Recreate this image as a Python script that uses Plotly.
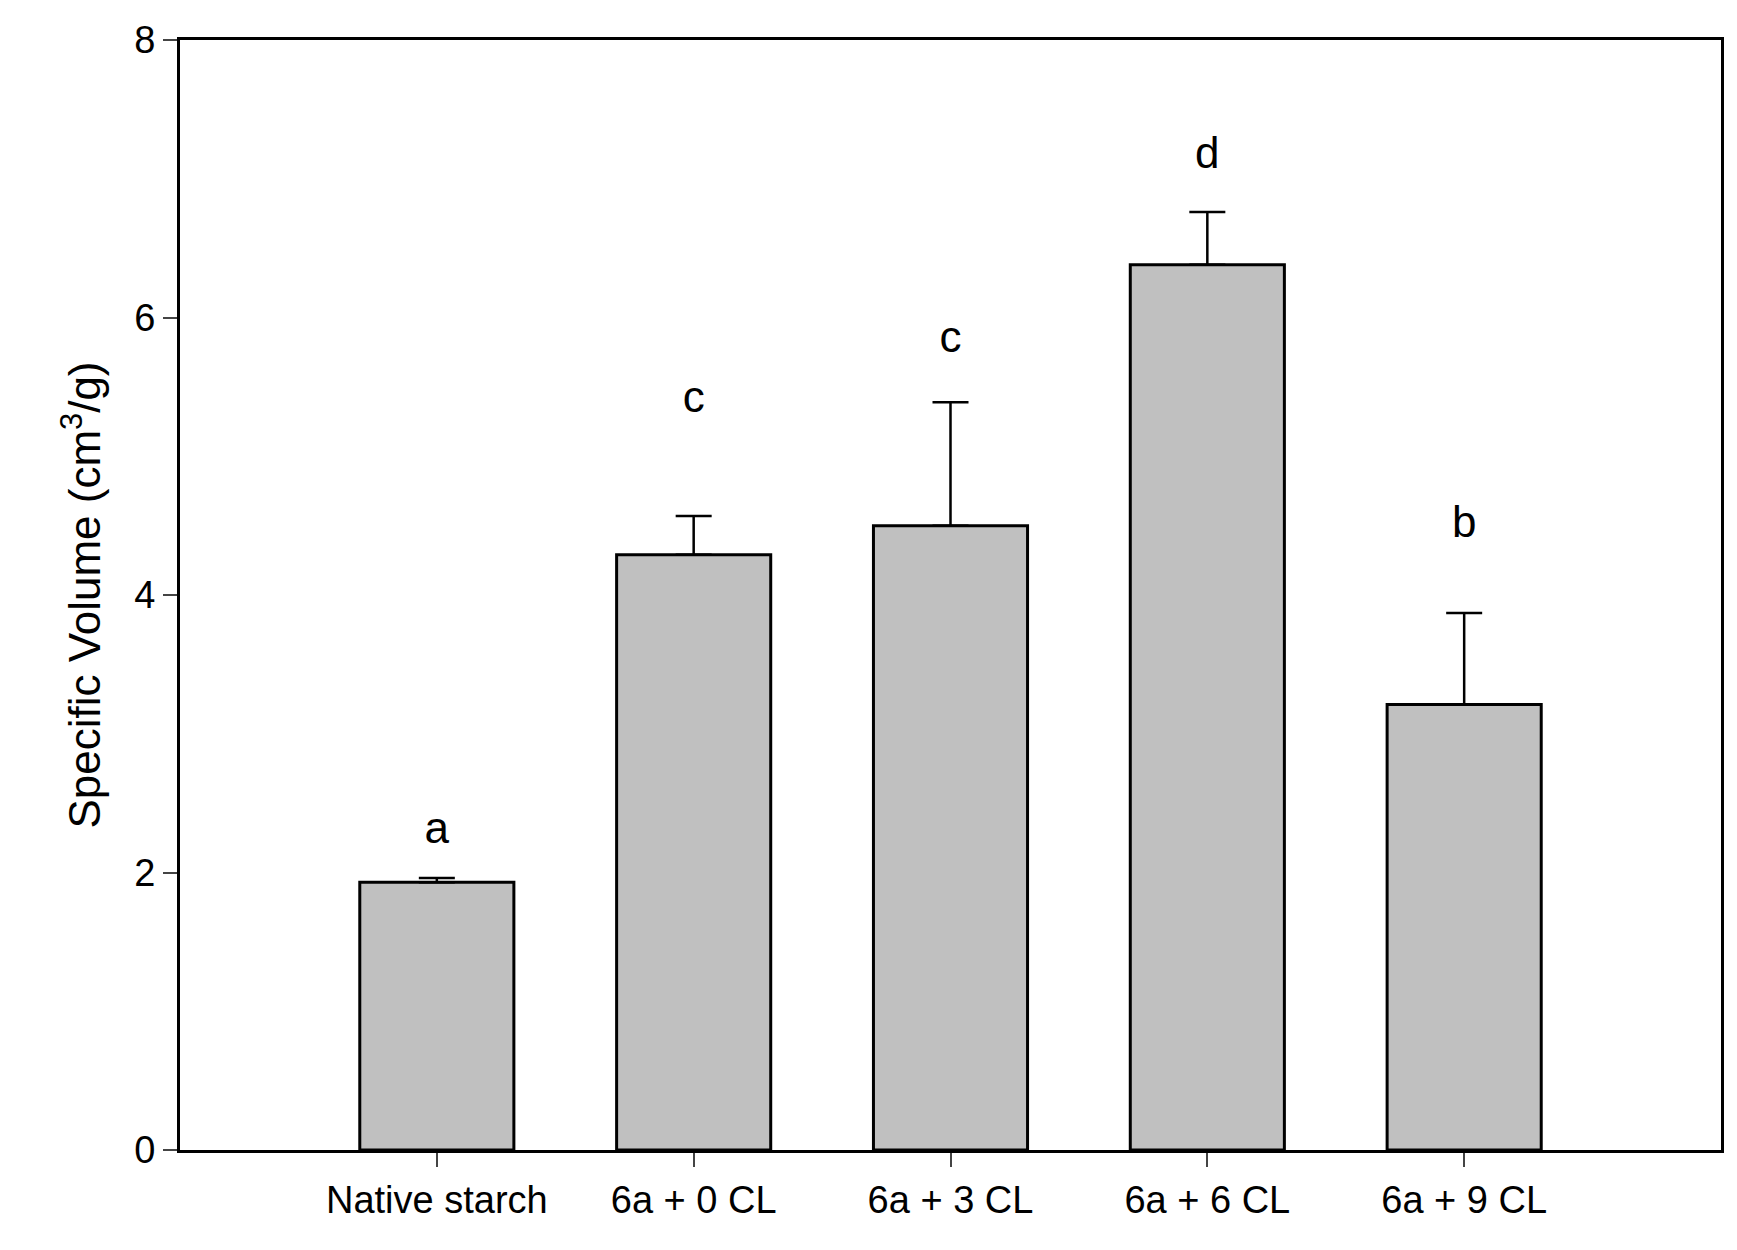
import plotly.graph_objects as go

categories = ["Native starch", "6a + 0 CL", "6a + 3 CL", "6a + 6 CL", "6a + 9 CL"]
values = [1.93, 4.29, 4.50, 6.38, 3.21]
errors = [0.03, 0.28, 0.89, 0.38, 0.66]
letters = ["a", "c", "c", "d", "b"]
letter_y = [2.29, 5.40, 5.83, 7.16, 4.50]

xs = list(range(len(categories)))

fig = go.Figure()
fig.add_trace(go.Bar(
    x=xs, y=values, width=0.6,
    marker=dict(color="#c0c0c0", line=dict(color="black", width=3)),
    error_y=dict(type="data", array=errors, arrayminus=[0]*len(errors),
                 color="black", thickness=2.5, width=18),
))
fig.add_trace(go.Scatter(
    x=xs, y=letter_y, mode="text", text=letters,
    textfont=dict(size=44, color="black", family="Liberation Sans"),
))

fig.update_xaxes(range=[-1, 5], tickvals=xs, ticktext=categories,
                 showline=True, linewidth=3, linecolor="black", mirror=True,
                 ticks="outside", ticklen=14, tickwidth=2, showgrid=False,
                 tickfont=dict(size=38))
fig.update_yaxes(range=[0, 8], tickvals=[0, 2, 4, 6, 8],
                 showline=True, linewidth=3, linecolor="black", mirror=True,
                 ticks="outside", ticklen=14, tickwidth=2, showgrid=False,
                 zeroline=False, tickfont=dict(size=38),
                 title=dict(text="Specific Volume (cm<sup>3</sup>/g)", font=dict(size=44), standoff=20))

fig.update_layout(width=1737, height=1250, showlegend=False,
                  paper_bgcolor="white", plot_bgcolor="white",
                  font=dict(family="Liberation Sans", color="black"),
                  margin=dict(l=172, r=24, t=32, b=108))

fig.write_html("out.html")
